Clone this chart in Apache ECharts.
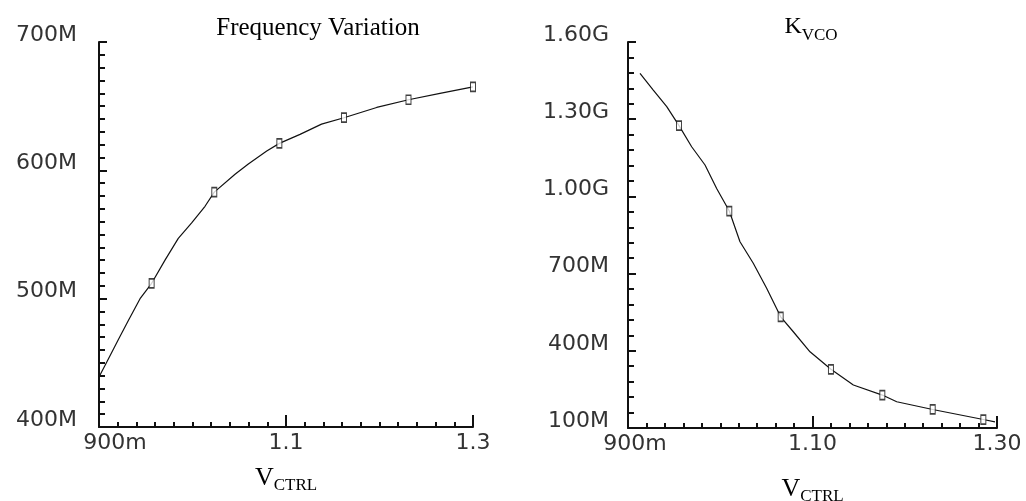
<!DOCTYPE html>
<html>
<head>
<meta charset="utf-8">
<script src="https://cdn.jsdelivr.net/npm/echarts@6/dist/echarts.min.js"></script>
<style>
html,body{margin:0;padding:0;background:#fff;}
#chart{width:1026px;height:501px;}
</style>
</head>
<body>
<div id="chart"></div>
<script>
// ---- Data (V in volts, frequency values in MHz) ----
// Left: Frequency Variation (output frequency vs control voltage)
const freqV = [0.900, 0.910, 0.9206, 0.9314, 0.9439, 0.9563, 0.9706, 0.9848, 0.9991, 1.0134, 1.0233, 1.0455, 1.0597, 1.0794, 1.0929, 1.115, 1.138, 1.162, 1.197, 1.231, 1.2647, 1.300];
const freqMHz = [439, 453, 468, 483, 500, 512, 530, 547, 559, 572, 583, 597, 605, 615, 621, 628, 636, 641, 649, 655, 660, 665];
const freqMarkV = [0.9563, 1.0233, 1.0929, 1.162, 1.231, 1.300];
const freqMarkMHz = [512, 583, 621, 641, 655, 665];

// Right: KVCO vs control voltage
const kvcoV = [0.913, 0.9274, 0.942, 0.9553, 0.969, 0.9835, 0.9961, 1.0098, 1.0214, 1.0358, 1.0503, 1.0655, 1.0792, 1.0973, 1.120, 1.1443, 1.1757, 1.1913, 1.2303, 1.2852, 1.2978];
const kvcoMHz = [1478, 1413, 1349, 1275, 1193, 1122, 1031, 943, 824, 740, 643, 532, 474, 396, 328, 267, 228, 202, 172, 133, 124];
const kvcoMarkV = [0.9553, 1.0098, 1.0655, 1.120, 1.1757, 1.2303, 1.2852];
const kvcoMarkMHz = [1275, 943, 532, 328, 228, 172, 133];

// Tick labels
const freqXTicks = {"0.9": "900m", "1.1": "1.1", "1.3": "1.3"};
const kvcoXTicks = {"0.9": "900m", "1.1": "1.10", "1.3": "1.30"};
const freqYTicks = {400: "400M", 500: "500M", 600: "600M", 700: "700M"};
const kvcoYTicks = {100: "100M", 400: "400M", 700: "700M", 1000: "1.00G", 1300: "1.30G", 1600: "1.60G"};

const titles = ["Frequency Variation", "K", "VCO"];
const xName = ["V", "CTRL"];

// ---- Chart ----
const zip = (a, b) => a.map((v, i) => [v, b[i]]);
const tickFont = {fontFamily: "DejaVu Sans", fontSize: 22, color: "#333"};
const serif = "Liberation Serif";

function xAxis(gridIndex, labels, minPad, gap) {
  return {
    type: "value", gridIndex: gridIndex, min: 0.9, max: 1.3, interval: 0.2,
    axisLine: {show: true, lineStyle: {color: "#111", width: 2}},
    axisTick: {show: true, inside: true, length: 12, lineStyle: {color: "#111", width: 2}},
    minorTick: {show: true, splitNumber: 10, length: 5, lineStyle: {color: "#111", width: 2}},
    splitLine: {show: false},
    axisLabel: Object.assign({}, tickFont, {
      margin: 5,
      formatter: function (v) {
        const s = labels[v.toFixed(1)] || "";
        return Math.abs(v - 0.9) < 1e-6 ? "{m|" + s + "}" : s;
      },
      rich: {m: Object.assign({}, tickFont, {padding: [0, 0, 0, minPad]})}
    }),
    name: "{v|" + xName[0] + "}{s|" + xName[1] + "}",
    nameLocation: "middle",
    nameGap: gap,
    nameTextStyle: {
      rich: {
        v: {fontFamily: serif, fontSize: 26, fontWeight: "normal", color: "#000", lineHeight: 28, verticalAlign: "bottom"},
        s: {fontFamily: serif, fontSize: 17, fontWeight: "normal", color: "#000", lineHeight: 18, verticalAlign: "bottom", padding: [0, 0, -3, 0]}
      }
    }
  };
}

function yAxis(gridIndex, min, max, interval, minorSplit, labels, margin) {
  return {
    type: "value", gridIndex: gridIndex, min: min, max: max, interval: interval,
    axisLine: {show: true, lineStyle: {color: "#111", width: 2}},
    axisTick: {show: true, inside: true, length: 8, lineStyle: {color: "#111", width: 2}},
    minorTick: {show: true, splitNumber: minorSplit, length: 6, lineStyle: {color: "#111", width: 2}},
    splitLine: {show: false},
    axisLabel: Object.assign({}, tickFont, {
      margin: margin,
      verticalAlign: "bottom",
      lineHeight: 14,
      formatter: function (v) { return labels[Math.round(v)] || ""; }
    })
  };
}

const lineStyle = {color: "#111", width: 1.2};
const markStyle = {color: "#fff", borderColor: "#111", borderWidth: 1.3};

const option = {
  animation: false,
  backgroundColor: "#fff",
  title: [
    {text: titles[0], left: 313, top: 11, textAlign: "center",
     textStyle: {fontFamily: serif, fontSize: 25, fontWeight: "normal", color: "#000"}},
    {text: "{k|" + titles[1] + "}{s|" + titles[2] + "}", left: 806, top: 8, textAlign: "center",
     textStyle: {fontWeight: "normal", rich: {
       k: {fontFamily: serif, fontSize: 24, fontWeight: "normal", color: "#000", lineHeight: 26, verticalAlign: "bottom"},
       s: {fontFamily: serif, fontSize: 17, fontWeight: "normal", color: "#000", lineHeight: 16, verticalAlign: "bottom", padding: [0, 0, -5, 0]}
     }}}
  ],
  grid: [
    {left: 99, right: 553, top: 42, bottom: 74, outerBoundsMode: "none"},
    {left: 628, right: 29, top: 42, bottom: 73, outerBoundsMode: "none"}
  ],
  xAxis: [xAxis(0, freqXTicks, 32, 36), xAxis(1, kvcoXTicks, 14, 46)],
  yAxis: [yAxis(0, 400, 700, 100, 10, freqYTicks, 22), yAxis(1, 100, 1600, 300, 5, kvcoYTicks, 19)],
  series: [
    {type: "line", xAxisIndex: 0, yAxisIndex: 0, data: zip(freqV, freqMHz), showSymbol: false, lineStyle: lineStyle, z: 2},
    {type: "scatter", xAxisIndex: 0, yAxisIndex: 0, data: zip(freqMarkV, freqMarkMHz), symbol: "rect", symbolSize: [5, 9], itemStyle: markStyle, z: 3},
    {type: "line", xAxisIndex: 1, yAxisIndex: 1, data: zip(kvcoV, kvcoMHz), showSymbol: false, lineStyle: lineStyle, z: 2},
    {type: "scatter", xAxisIndex: 1, yAxisIndex: 1, data: zip(kvcoMarkV, kvcoMarkMHz), symbol: "rect", symbolSize: [5, 9], itemStyle: markStyle, z: 3}
  ]
};

const chart = echarts.init(document.getElementById("chart"), null, {renderer: "canvas"});
chart.setOption(option);
</script>
</body>
</html>
